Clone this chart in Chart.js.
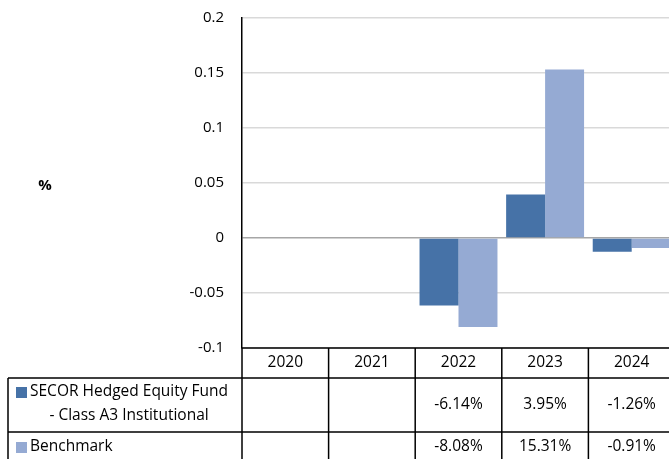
<!DOCTYPE html>
<html>
<head>
<meta charset="utf-8">
<script src="https://cdn.jsdelivr.net/npm/chart.js@4/dist/chart.umd.min.js"></script>
<style>
  html,body{margin:0;padding:0;background:#fff;overflow:hidden;}
  #wrap{width:675px;height:459px;}
</style>
</head>
<body>
<div id="wrap"><canvas id="idGrafica" width="675" height="459"></canvas></div>
<script>
// datos
var anios=['2020','2021','2022','2023','2024'];
var fondo=[null,null,-0.0614,0.0395,-0.0126];
var benchmark=[null,null,-0.0808,0.1531,-0.0091];
var etiquetaFondo=['SECOR Hedged Equity Fund','- Class A3 Institutional'];
var etiquetaBench='Benchmark';
var ticksY=[-0.1,-0.05,0,0.05,0.1,0.15,0.2];

var colorFondo='#4672a7';
var colorBench='#95aad3';
var fuente='"Open Sans", sans-serif';

function pct(v){
    if(v===null) return '';
    return (v*100).toFixed(2)+'%';
}

// tabla de datos debajo del grafico
var tablaPlugin={
    id:'tabla',
    afterDraw:function(chart){
        var ctx=chart.ctx;
        var area=chart.chartArea;
        var n=anios.length;
        var w=(area.right-area.left)/n;
        var top=area.bottom;
        var r1=top+30, r2=r1+54, fin=chart.height+2;
        var izq=8;
        ctx.save();
        ctx.strokeStyle='#000';
        ctx.lineWidth=1.5;
        ctx.beginPath();
        ctx.moveTo(area.left,top);ctx.lineTo(area.right,top);
        ctx.moveTo(izq,r1);ctx.lineTo(area.right,r1);
        ctx.moveTo(izq,r2);ctx.lineTo(area.right,r2);
        ctx.moveTo(izq,r1);ctx.lineTo(izq,fin);
        for(var i=0;i<=n;i++){
            var x=area.left+i*w;
            ctx.moveTo(x,top);ctx.lineTo(x,fin);
        }
        ctx.stroke();

        ctx.fillStyle='#000';
        ctx.font='15.5px '+fuente;
        ctx.textAlign='center';
        ctx.textBaseline='middle';
        for(var i=0;i<n;i++){
            var cx=area.left+(i+0.5)*w;
            ctx.fillText(anios[i],cx,top+15);
            ctx.fillText(pct(fondo[i]),cx,(r1+r2)/2);
            ctx.fillText(pct(benchmark[i]),cx,r2+15);
        }
        // etiquetas de las series
        ctx.textAlign='left';
        var tx=30;
        ctx.fillText(etiquetaFondo[0],tx,r1+14);
        var ancho=ctx.measureText(etiquetaFondo[0]).width;
        ctx.textAlign='center';
        ctx.fillText(etiquetaFondo[1],tx+ancho/2,r1+38);
        ctx.textAlign='left';
        ctx.fillText(etiquetaBench,tx,r2+15);
        ctx.fillStyle=colorFondo;
        ctx.fillRect(16,r1+9,11,11);
        ctx.fillStyle=colorBench;
        ctx.fillRect(16,r2+10,11,11);

        // titulo del eje
        ctx.fillStyle='#000';
        ctx.font='bold 15px '+fuente;
        ctx.textAlign='center';
        ctx.fillText('%',45,186);
        ctx.restore();
    }
};

var ctx=document.getElementById('idGrafica').getContext('2d');
var mychart=new Chart(ctx,{
    type:'bar',
    data:{
        labels:anios,
        datasets:[
            {label:etiquetaFondo.join(' '),data:fondo,backgroundColor:colorFondo},
            {label:etiquetaBench,data:benchmark,backgroundColor:colorBench}
        ]
    },
    options:{
        responsive:false,
        animation:false,
        layout:{padding:{top:18,bottom:111,left:0,right:0}},
        plugins:{legend:{display:false},tooltip:{enabled:false}},
        datasets:{bar:{categoryPercentage:0.9,barPercentage:1.0}},
        scales:{
            x:{display:false},
            y:{
                min:-0.1,max:0.2,
                afterFit:function(s){s.width=242;s.paddingTop=0;s.paddingBottom=0;},
                afterBuildTicks:function(s){s.ticks=ticksY.map(function(v){return {value:v};});},
                ticks:{
                    color:'#000',
                    padding:18,
                    font:{family:'"Open Sans", sans-serif',size:15},
                    callback:function(v){return String(+v.toFixed(2));}
                },
                grid:{
                    drawTicks:false,
                    lineWidth:1.5,
                    color:function(c){return c.tick && c.tick.value===0 ? '#a6a6a6' : '#d9d9d9';}
                },
                border:{display:true,color:'#000',width:1.5}
            }
        }
    },
    plugins:[tablaPlugin]
});
</script>
</body>
</html>
